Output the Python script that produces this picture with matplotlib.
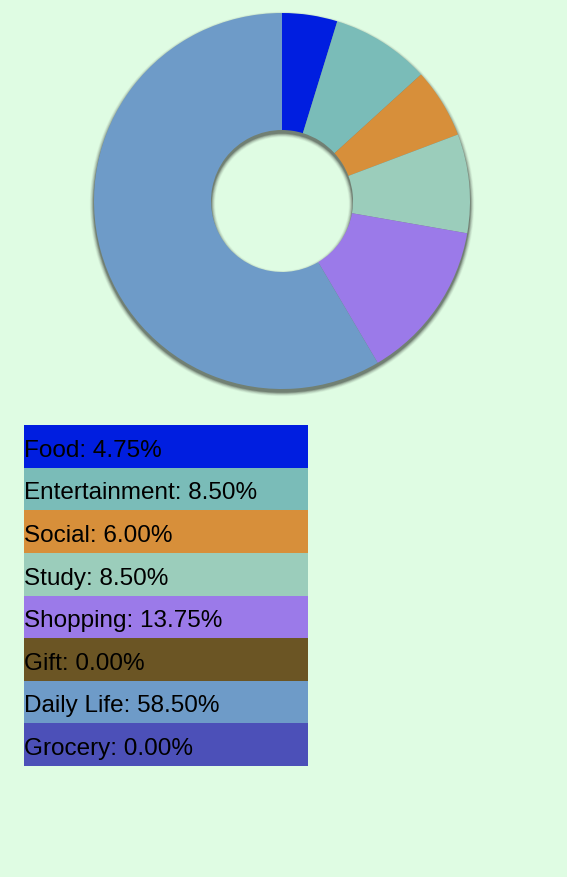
import matplotlib.pyplot as plt
from matplotlib.patches import Wedge

categories = ['Food', 'Entertainment', 'Social', 'Study', 'Shopping', 'Gift', 'Daily Life', 'Grocery']
percents = [4.75, 8.50, 6.00, 8.50, 13.75, 0.00, 58.50, 0.00]
colors = ['#001ee0', '#7abcb8', '#d78f3a', '#9bcdbb', '#9b7ae9', '#6b5524', '#6e9bc8', '#4c50b8']

BG = '#dffce3'
W, H = 567, 878

fig = plt.figure(figsize=(W / 100, H / 100), dpi=100, facecolor=BG)

# donut: centre (282, 202) px, outer r 188 px, inner r 71 px
cx, cy, r = 282, 202, 188
pad = 1.15
ax = fig.add_axes([(cx - r * pad) / W, 1 - (cy + r * pad) / H, 2 * r * pad / W, 2 * r * pad / H])

inner = 71 / r
px = 1 / r
# soft shadow under the ring
for k, a in [(6, 0.04), (5, 0.06), (4, 0.08), (3, 0.10), (2, 0.14), (1, 0.20)]:
    ax.add_patch(Wedge((0, -3 * px), 1 + k * 0.7 * px, 0, 360,
                       width=1 - inner + k * 1.4 * px, color='black', alpha=a, lw=0))

ax.pie(percents, colors=colors, startangle=90, counterclock=False,
       radius=1, wedgeprops=dict(width=1 - inner, linewidth=0))
ax.set_xlim(-pad, pad)
ax.set_ylim(-pad, pad)
ax.set_aspect('equal')
ax.axis('off')

# legend rows
lx0, lx1, ly0, ly1 = 24, 308, 426, 767
lax = fig.add_axes([lx0 / W, 1 - ly1 / H, (lx1 - lx0) / W, (ly1 - ly0) / H])
n = len(categories)
lax.barh(range(n), [1] * n, height=1, left=0, color=colors, linewidth=0)
lax.set_xlim(0, 1)
lax.set_ylim(n - 0.5, -0.5)
lax.axis('off')
for i, (name, v) in enumerate(zip(categories, percents)):
    lax.text(0.0, i + 0.08, f'{name}: {v:.2f}%', ha='left', va='center',
             fontsize=17.5, family='Liberation Sans', color='black')

fig.savefig('out.png', dpi=100, facecolor=BG)
